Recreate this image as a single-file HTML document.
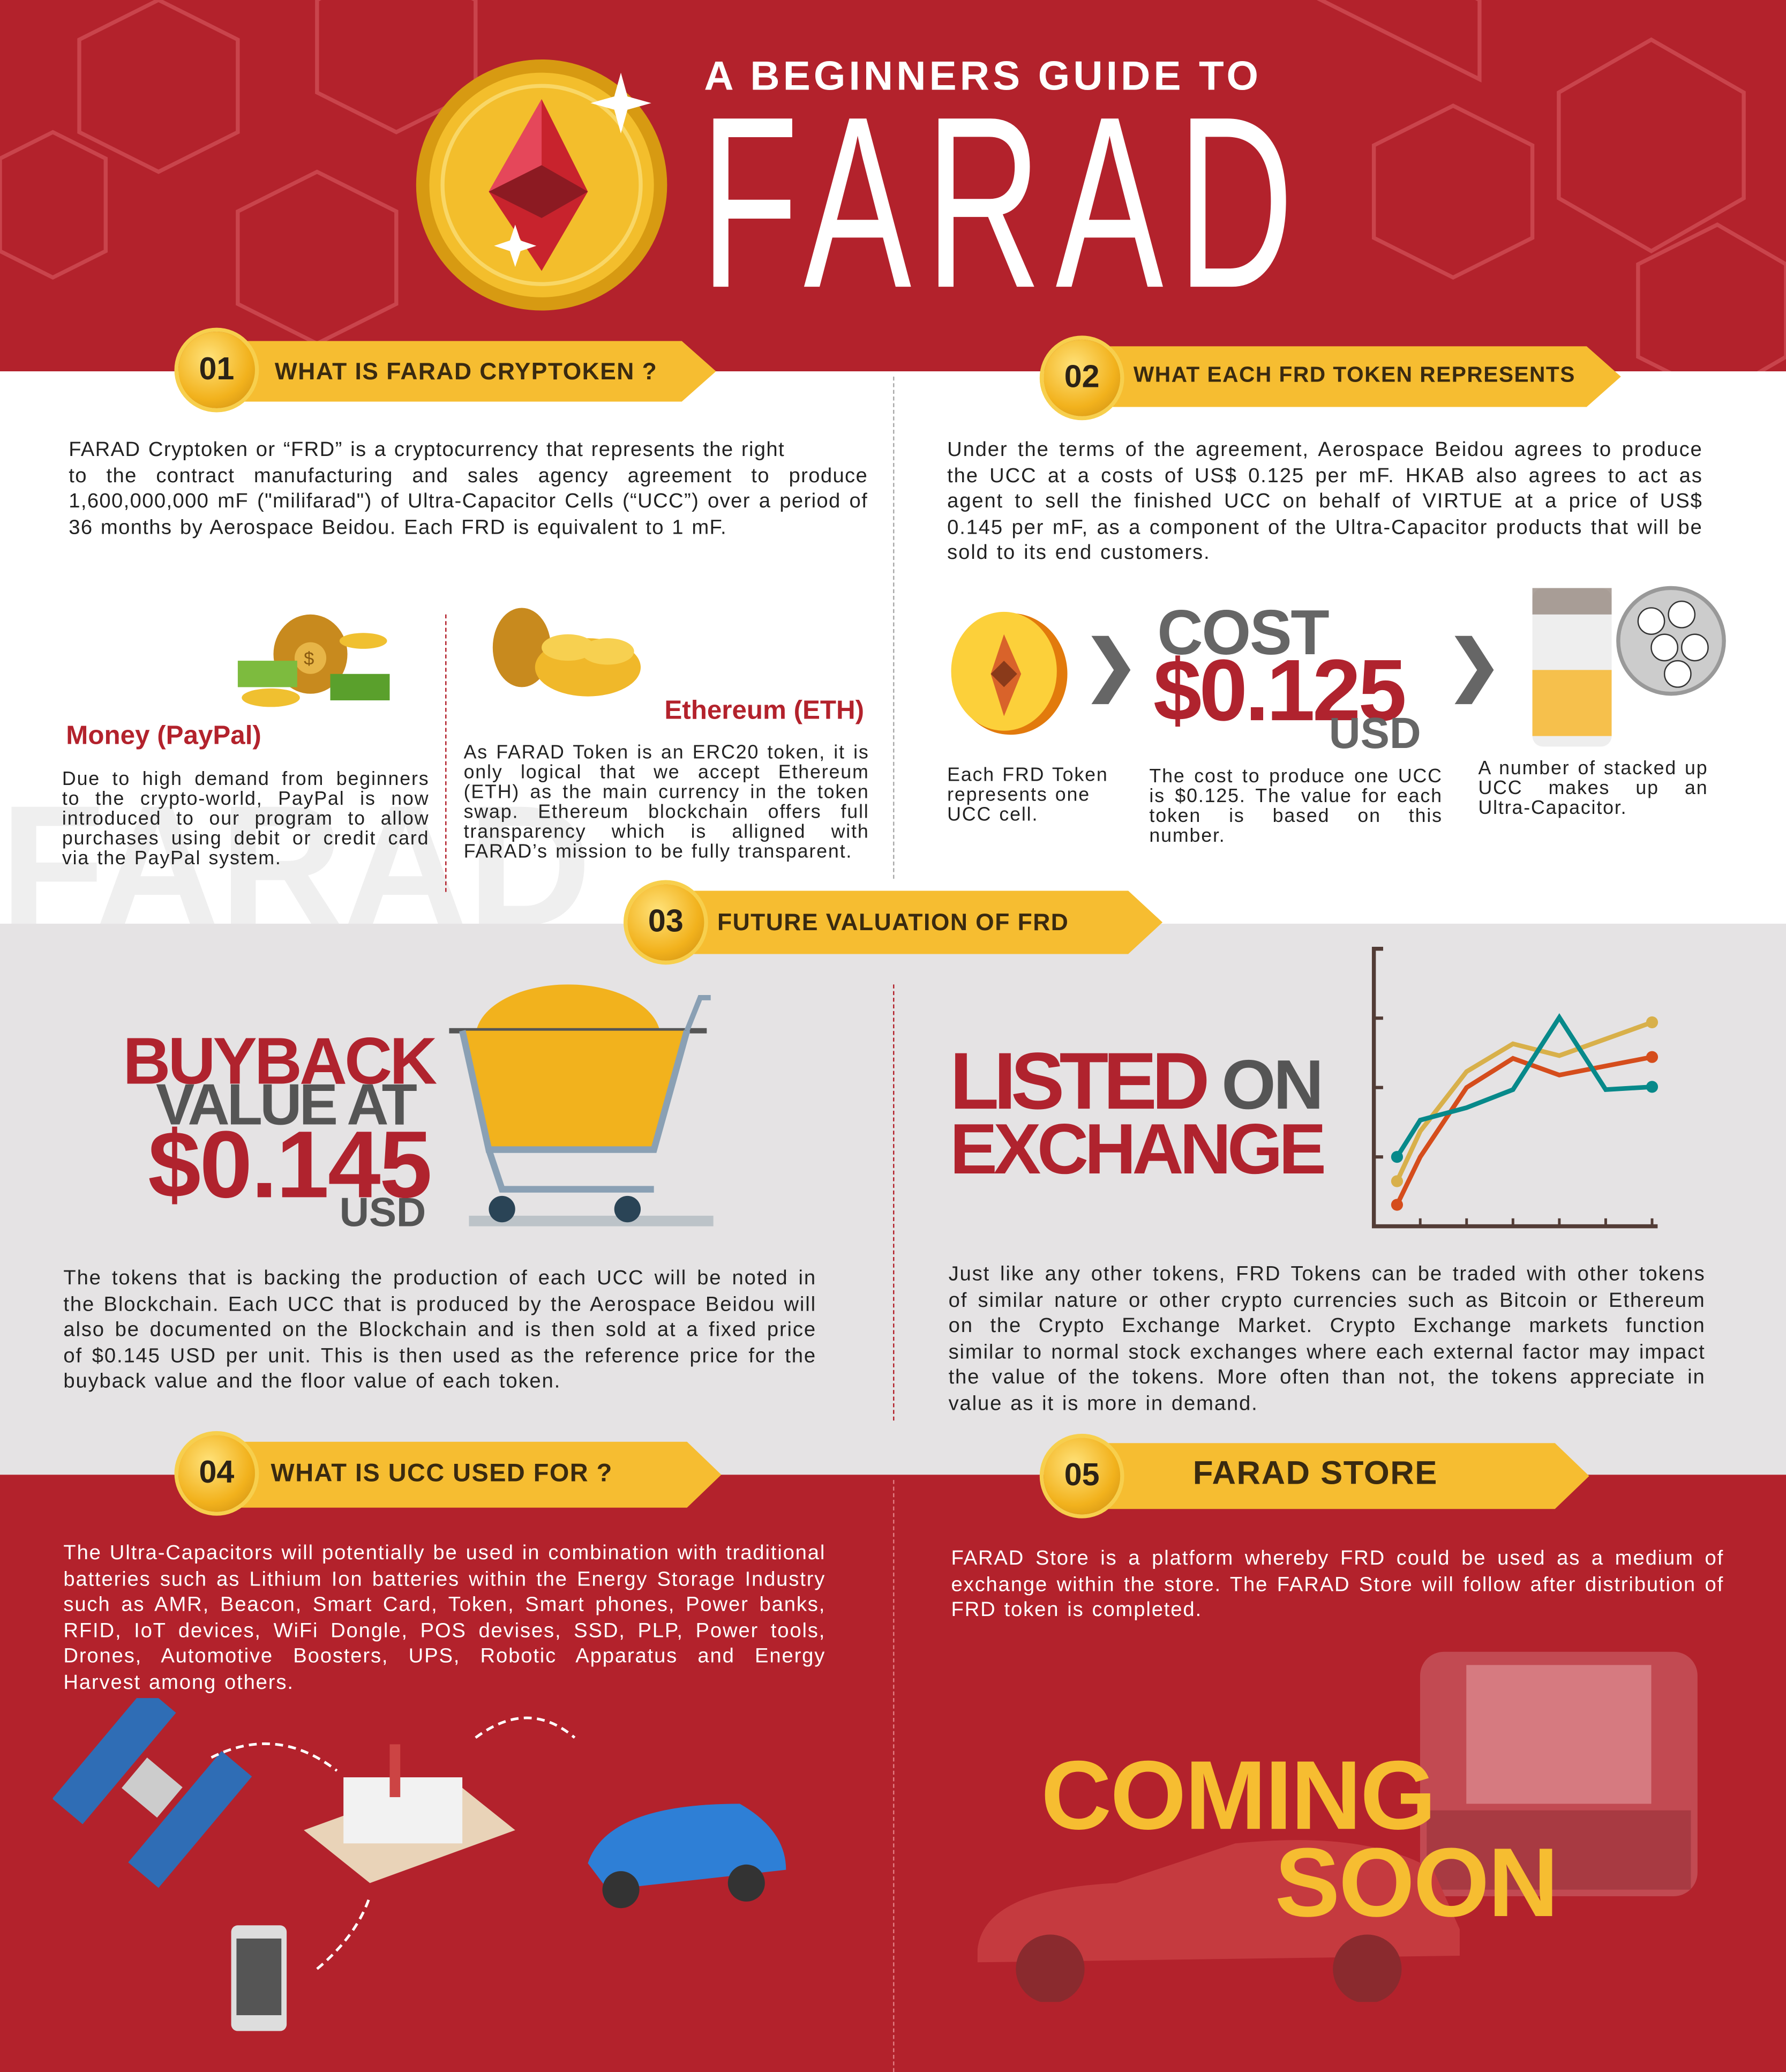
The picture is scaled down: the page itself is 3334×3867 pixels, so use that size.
<!DOCTYPE html>
<html><head><meta charset="utf-8"><style>
html,body{margin:0;padding:0;}
body{width:3334px;height:3867px;overflow:hidden;background:#fff;}
#w{position:absolute;left:0;top:0;width:1352px;height:1568px;transform:scale(2.466,2.4662);transform-origin:0 0;font-family:"Liberation Sans",sans-serif;overflow:hidden;}
.a{position:absolute;}
.t{position:absolute;font-size:15.5px;line-height:19.5px;text-align:justify;color:#222;letter-spacing:0.75px;word-spacing:1px;}
.tw{color:#fff;}
.banner{position:absolute;height:46px;background:#f6bd31;clip-path:polygon(0 0,calc(100% - 26px) 0,100% 50%,calc(100% - 26px) 100%,0 100%);}
.btxt{position:absolute;font-weight:bold;font-size:18px;color:#3a2a10;letter-spacing:.6px;}
.badge{position:absolute;width:58px;height:58px;border-radius:50%;background:radial-gradient(circle at 40% 35%,#ffe27a,#f2b21d 60%,#c98a10);box-shadow:0 0 0 3px #f7cf4d;text-align:center;line-height:58px;font-weight:bold;font-size:24px;color:#2b2216;}
.h{position:absolute;font-weight:bold;line-height:1;white-space:nowrap;}
</style></head><body>
<div id="w">
<!-- header -->
<div class="a" style="left:0;top:0;width:1352px;height:281px;background:#b3222c;"></div>
<svg class="a" style="left:0;top:0" width="1352" height="281">
<g fill="none" stroke="#c9444c" stroke-width="3">
<polygon points="60,30 120,0 180,30 180,100 120,130 60,100"/>
<polygon points="0,120 40,100 80,120 80,190 40,210 0,190"/>
<polygon points="180,160 240,130 300,160 300,230 240,260 180,230"/>
<polygon points="240,0 300,-30 360,0 360,70 300,100 240,70"/>
<polygon points="1040,110 1100,80 1160,110 1160,180 1100,210 1040,180"/>
<polygon points="1180,70 1250,30 1320,70 1320,150 1250,190 1180,150"/>
<polygon points="1240,200 1300,170 1352,200 1352,270 1300,300 1240,270"/>
<polygon points="1000,0 1060,-30 1120,0 1120,60"/>
</g></svg>
<svg class="a" style="left:310px;top:35px" width="210" height="210">
<circle cx="100" cy="105" r="95" fill="#d79a12"/><circle cx="100" cy="105" r="85" fill="#f3be2c"/><circle cx="100" cy="105" r="75" fill="none" stroke="#f9d766" stroke-width="3"/>
<polygon points="100,40 135,110 100,170 60,110" fill="#c8232d"/><polygon points="100,40 100,110 60,110" fill="#e5475a"/><polygon points="60,110 100,90 135,110 100,130" fill="#8c1a22"/>
<path d="M160 20 l5 18 18 5 -18 5 -5 18 -5 -18 -18 -5 18 -5z" fill="#fff"/>
<path d="M80 135 l4 12 12 4 -12 4 -4 12 -4 -12 -12 -4 12 -4z" fill="#fff"/>
</svg>
<div class="h" style="left:533px;top:42px;font-size:31px;color:#fff;letter-spacing:2.5px;">A BEGINNERS GUIDE TO</div>
<div class="h" style="left:530px;top:62px;font-size:185px;color:#fff;font-weight:normal;transform:scaleX(.66);transform-origin:0 0;letter-spacing:16px;">FARAD</div>

<!-- white section -->
<div class="a" style="left:676px;top:285px;height:380px;border-left:1.5px dashed #aaa;"></div>
<div class="h" style="left:0;top:590px;font-size:130px;color:#efefef;">FARAD</div>
<div class="banner" style="left:160px;top:258px;width:382px;"></div>
<div class="badge" style="left:135px;top:251px;">01</div>
<div class="btxt" style="left:208px;top:271px;">WHAT IS FARAD CRYPTOKEN ?</div>
<div class="t" style="left:52px;top:331px;width:605px;letter-spacing:0.55px;">FARAD Cryptoken or “FRD” is a  cryptocurrency that represents the right<br>to the contract manufacturing and sales agency agreement to produce 1,600,000,000 mF ("milifarad") of Ultra-Capacitor Cells (“UCC”) over a period of 36 months by Aerospace Beidou. Each FRD is equivalent to 1 mF.</div>
<svg class="a" style="left:175px;top:440px" width="125" height="100"><ellipse cx="60" cy="55" rx="28" ry="30" fill="#c88a1e"/><circle cx="60" cy="58" r="12" fill="#e7b547"/><text x="55" y="63" font-size="14" fill="#8a5a10" font-family="Liberation Sans">$</text><rect x="5" y="60" width="45" height="20" fill="#7dbb3e"/><rect x="75" y="70" width="45" height="20" fill="#5aa02c"/><ellipse cx="30" cy="88" rx="22" ry="7" fill="#f0c030"/><ellipse cx="100" cy="45" rx="18" ry="6" fill="#f0c030"/></svg>
<div class="h" style="left:50px;top:547px;font-size:20px;color:#b3222c;">Money (PayPal)</div>
<div class="t" style="left:47px;top:583px;width:278px;font-size:14.5px;line-height:15px;">Due to high demand from beginners to the crypto-world, PayPal is now introduced to our program to allow purchases using debit or credit card via the PayPal system.</div>
<div class="a" style="left:337px;top:465px;height:210px;border-left:1.5px dashed #b3222c;"></div>
<svg class="a" style="left:365px;top:445px" width="125" height="95"><ellipse cx="30" cy="45" rx="22" ry="30" fill="#c88a1e"/><ellipse cx="80" cy="60" rx="40" ry="22" fill="#f0b82a"/><ellipse cx="65" cy="45" rx="20" ry="10" fill="#f7d050"/><ellipse cx="95" cy="48" rx="20" ry="10" fill="#f7d050"/></svg>
<div class="h" style="left:503px;top:528px;font-size:20px;color:#b3222c;">Ethereum (ETH)</div>
<div class="t" style="left:351px;top:563px;width:307px;font-size:14.5px;line-height:15px;">As FARAD Token is an ERC20 token, it is only logical that we accept Ethereum (ETH) as the main currency in the token swap. Ethereum blockchain offers full transparency which is alligned with FARAD’s mission to be fully transparent.</div>

<div class="banner" style="left:815px;top:262px;width:412px;"></div>
<div class="badge" style="left:790px;top:257px;">02</div>
<div class="btxt" style="left:858px;top:275px;font-size:16.5px;">WHAT EACH FRD TOKEN REPRESENTS</div>
<div class="t" style="left:717px;top:331px;width:572px;">Under the terms of the agreement, Aerospace Beidou agrees to produce the UCC at a costs of US$ 0.125 per mF. HKAB also agrees to act as agent to sell the finished UCC on behalf of VIRTUE at a price of US$ 0.145 per mF, as a component of the Ultra-Capacitor products that will be sold to its end customers.</div>
<svg class="a" style="left:715px;top:460px" width="100" height="100"><ellipse cx="50" cy="50" rx="43" ry="46" fill="#e27a0c"/><ellipse cx="45" cy="48" rx="40" ry="45" fill="#fcd03a"/><polygon points="45,20 58,50 45,82 35,50" fill="#d9632a"/><polygon points="35,50 45,40 55,50 45,60" fill="#8a3a1a"/></svg>
<div class="h" style="left:820px;top:478px;font-size:50px;color:#666;">❯</div>
<div class="h" style="left:876px;top:456px;font-size:48px;color:#666;letter-spacing:-1px;">COST</div>
<div class="h" style="left:873px;top:489px;font-size:66px;color:#b0232e;letter-spacing:-2px;">$0.125</div>
<div class="h" style="left:1006px;top:538px;font-size:33px;color:#666;">USD</div>
<div class="h" style="left:1095px;top:478px;font-size:50px;color:#666;">❯</div>
<svg class="a" style="left:1155px;top:435px" width="155" height="135"><rect x="5" y="10" width="60" height="120" rx="8" fill="#eee"/><rect x="5" y="72" width="60" height="50" fill="#f6c04c"/><rect x="5" y="10" width="60" height="20" fill="#8a7a70" opacity=".7"/><circle cx="110" cy="50" r="40" fill="#ccc" stroke="#999" stroke-width="3"/><g fill="#fff" stroke="#333"><circle cx="95" cy="35" r="10"/><circle cx="118" cy="30" r="10"/><circle cx="105" cy="55" r="10"/><circle cx="128" cy="55" r="10"/><circle cx="115" cy="75" r="10"/></g></svg>
<div class="t" style="left:717px;top:580px;width:130px;font-size:14.5px;line-height:15px;text-align:left;">Each FRD Token represents one UCC cell.</div>
<div class="t" style="left:870px;top:581px;width:222px;font-size:14.5px;line-height:15px;">The cost to produce one UCC is $0.125. The value for each token is based on this number.</div>
<div class="t" style="left:1119px;top:575px;width:174px;font-size:14.5px;line-height:15px;">A number of stacked up UCC makes up an Ultra-Capacitor.</div>

<!-- gray section -->
<div class="a" style="left:0;top:699px;width:1352px;height:417px;background:#e5e3e4;"></div>
<div class="a" style="left:676px;top:745px;height:330px;border-left:1.5px dashed #b3222c;"></div>
<div class="banner" style="left:500px;top:674px;width:380px;height:48px;"></div>
<div class="badge" style="left:475px;top:669px;">03</div>
<div class="btxt" style="left:543px;top:688px;">FUTURE VALUATION OF FRD</div>
<div class="h" style="left:93px;top:778px;font-size:50px;color:#b0232e;letter-spacing:-2px;">BUYBACK</div>
<div class="h" style="left:118px;top:815px;font-size:44px;color:#555;letter-spacing:-2px;">VALUE AT</div>
<div class="h" style="left:112px;top:846px;font-size:72px;color:#b0232e;letter-spacing:-1px;">$0.145</div>
<div class="h" style="left:257px;top:902px;font-size:31px;color:#555;">USD</div>
<svg class="a" style="left:335px;top:730px" width="215" height="205"><ellipse cx="95" cy="55" rx="70" ry="40" fill="#f2b21d"/><path d="M5 50 H200" stroke="#555" stroke-width="4"/><path d="M15 50 L35 140 H160 L185 50" fill="#f2b21d" stroke="#8aa0b4" stroke-width="5"/><path d="M35 140 L45 170 H160" fill="none" stroke="#8aa0b4" stroke-width="5"/><rect x="20" y="190" width="185" height="8" fill="#bcc3c8"/><circle cx="45" cy="185" r="10" fill="#2a4456"/><circle cx="140" cy="185" r="10" fill="#2a4456"/><path d="M185 50 L195 25 H203" stroke="#8aa0b4" stroke-width="4" fill="none"/></svg>
<div class="t" style="left:48px;top:958px;width:570px;">The tokens that is backing the production of each UCC will be noted in the Blockchain. Each UCC that is produced by the Aerospace Beidou will also be documented on the Blockchain and is then sold at a fixed price of $0.145 USD per unit. This is then used as the reference price for the buyback value and the floor value of each token.</div>
<div class="h" style="left:719px;top:788px;font-size:61px;color:#b0232e;letter-spacing:-4px;">LISTED<span style="color:#555;font-size:53px;letter-spacing:-2px;"> ON</span></div>
<div class="h" style="left:719px;top:843px;font-size:54px;color:#b0232e;letter-spacing:-3px;">EXCHANGE</div>
<svg class="a" id="chart" style="left:1020px;top:705px" width="260" height="240"></svg>
<div class="t" style="left:718px;top:955px;width:573px;">Just like any other tokens, FRD Tokens can be traded with other tokens of similar nature or other crypto currencies such as Bitcoin or Ethereum on the Crypto Exchange Market. Crypto Exchange markets function similar to normal stock exchanges where each external factor may impact the value of the tokens. More often than not, the tokens appreciate in value as it is more in demand.</div>

<!-- bottom red -->
<div class="a" style="left:0;top:1116px;width:1352px;height:452px;background:#b3222c;"></div>
<div class="a" style="left:676px;top:1120px;height:448px;border-left:1.5px dashed #e07a80;"></div>
<div class="banner" style="left:160px;top:1091px;width:386px;height:50px;"></div>
<div class="badge" style="left:135px;top:1086px;">04</div>
<div class="btxt" style="left:205px;top:1105px;font-size:19px;">WHAT IS UCC USED FOR ?</div>
<div class="t tw" style="left:48px;top:1166px;width:577px;">The Ultra-Capacitors will potentially be used in combination with traditional batteries such as Lithium Ion batteries within the Energy Storage Industry such as AMR, Beacon, Smart Card, Token, Smart phones, Power banks, RFID, IoT devices, WiFi Dongle, POS devises, SSD, PLP, Power tools, Drones, Automotive Boosters, UPS, Robotic Apparatus and Energy Harvest among others.</div>
<svg class="a" style="left:40px;top:1285px" width="620" height="260">
<g transform="rotate(40 70 70)"><rect x="20" y="10" width="30" height="110" fill="#2f6db5"/><rect x="55" y="50" width="35" height="30" fill="#ccc"/><rect x="95" y="10" width="30" height="110" fill="#2f6db5"/></g>
<path d="M120 45 Q170 20 215 55" stroke="#fff" stroke-width="2" stroke-dasharray="6 4" fill="none"/>
<polygon points="190,100 300,60 350,100 240,140" fill="#e9d3b8"/><rect x="220" y="60" width="90" height="50" fill="#f2f2f2"/><rect x="255" y="35" width="8" height="40" fill="#c44"/>
<path d="M320 30 Q360 0 395 30" stroke="#fff" stroke-width="2" stroke-dasharray="6 4" fill="none"/>
<path d="M405 125 Q420 80 520 80 Q555 100 555 130 L420 145z" fill="#2e7fd6"/><circle cx="430" cy="145" r="14" fill="#333"/><circle cx="525" cy="140" r="14" fill="#333"/>
<rect x="135" y="172" width="42" height="80" rx="5" fill="#ddd"/><rect x="139" y="182" width="34" height="58" fill="#555"/>
<path d="M200 205 Q230 180 240 150" stroke="#fff" stroke-width="2" stroke-dasharray="6 4" fill="none"/>
</svg>
<div class="banner" style="left:815px;top:1092px;width:388px;height:50px;"></div>
<div class="badge" style="left:790px;top:1088px;">05</div>
<div class="btxt" style="left:903px;top:1101px;font-size:25px;">FARAD STORE</div>
<div class="t tw" style="left:720px;top:1170px;width:585px;">FARAD Store is a platform whereby FRD could be used as a medium of exchange within the store. The FARAD Store will follow after distribution of FRD token is completed.</div>
<svg class="a" style="left:735px;top:1245px" width="560" height="270">
<rect x="340" y="5" width="210" height="185" rx="18" fill="#c24a52"/><rect x="375" y="15" width="140" height="105" fill="#d67a80"/><rect x="345" y="125" width="200" height="60" fill="#a83a42"/>
<path d="M5 230 Q10 185 110 180 L200 150 Q300 140 350 170 L370 215 L370 235 L5 240z" fill="#c53a3f"/><circle cx="60" cy="245" r="26" fill="#8a2a2e"/><circle cx="300" cy="245" r="26" fill="#8a2a2e"/>
</svg>
<div class="h" style="left:788px;top:1322px;font-size:74px;color:#f6bd31;letter-spacing:-1px;">COMING</div>
<div class="h" style="left:965px;top:1388px;font-size:74px;color:#f6bd31;letter-spacing:-1px;">SOON</div>
</div>
<script>
const xVals=[0.5,1,2,3,4,5,6];
const tealSeries=[1.0,1.53,1.71,1.97,3.01,1.97,2.01];
const orangeSeries=[0.31,1.0,2.0,2.42,2.18,2.31,2.44];
const yellowSeries=[0.65,1.37,2.23,2.63,2.46,2.70,2.94];
const xTicks=[1,2,3,4,5,6];
const yTicks=[1,2,3,4];
(function(){
const svg=document.getElementById('chart');const NS='http://www.w3.org/2000/svg';
const ox=20,oy=223,xs=x=>ox+x*35.1,ys=v=>oy-v*52.5;
function mk(t,a){const e=document.createElementNS(NS,t);for(const k in a)e.setAttribute(k,a[k]);svg.appendChild(e);return e;}
let ax=mk('path',{d:`M${ox+7} ${ys(4)} H${ox} V${oy} H${xs(6.12)}`,stroke:'#523c36','stroke-width':3,fill:'none'});


yTicks.forEach(v=>{const e=mk('line',{x1:ox,x2:ox+7,y1:ys(v),y2:ys(v),stroke:'#523c36','stroke-width':2.5});

});
xTicks.forEach(v=>{const e=mk('line',{x1:xs(v),x2:xs(v),y1:oy,y2:oy-6,stroke:'#523c36','stroke-width':2});

});
[[yellowSeries,'#d8b04a','yellow'],[orangeSeries,'#d54d1c','orange'],[tealSeries,'#07898a','teal']].forEach(([s,c,n])=>{
const l=mk('polyline',{points:s.map((v,i)=>xs(xVals[i])+','+ys(v)).join(' '),stroke:c,'stroke-width':3.5,fill:'none'});


[0,s.length-1].forEach(i=>{const d=mk('circle',{cx:xs(xVals[i]),cy:ys(s[i]),r:4.5,fill:c});

});
});
})();
</script>
</body></html>
